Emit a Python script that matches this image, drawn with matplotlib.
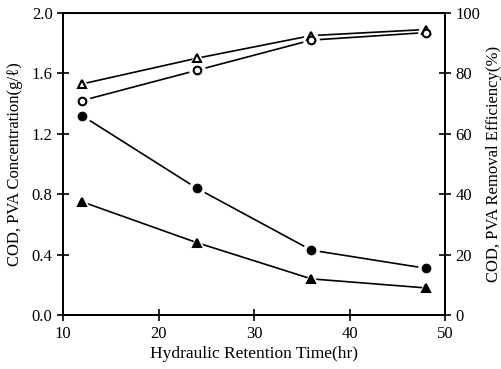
import matplotlib
matplotlib.use("Agg")
import matplotlib.pyplot as plt

plt.rcParams['font.family'] = ['Liberation Serif', 'DejaVu Serif']

hrt = [12, 24, 36, 48]
cod_conc = [1.32, 0.84, 0.43, 0.31]
pva_conc = [0.75, 0.48, 0.24, 0.18]
cod_eff = [76.5, 85.0, 92.5, 94.5]
pva_eff = [71.0, 81.0, 91.0, 93.5]

fig = plt.figure(figsize=(5.02, 3.69), dpi=100)
ax = fig.add_axes([0.1255, 0.146, 0.761, 0.819])
ax2 = ax.twinx()


def draw(a, y, marker, filled):
    a.plot(hrt, y, color='black', lw=1.2, zorder=2)
    # white halo leaves a small gap between line and marker
    a.plot(hrt, y, ls='none', marker=marker, ms=11, mfc='white', mec='white', zorder=3)
    ms = 5.5 if marker == 'o' else 6
    a.plot(hrt, y, ls='none', marker=marker, ms=ms,
           mfc='black' if filled else 'white', mec='black', mew=1.5, zorder=4)


draw(ax, cod_conc, 'o', True)
draw(ax, pva_conc, '^', True)
draw(ax2, cod_eff, '^', False)
draw(ax2, pva_eff, 'o', False)

ax.set_xlim(10, 50)
ax.set_ylim(0, 2.0)
ax2.set_ylim(0, 100)
ax.set_xticks([10, 20, 30, 40, 50])
ax.set_yticks([0.0, 0.4, 0.8, 1.2, 1.6, 2.0])
ax.set_yticklabels(['0.0', '0.4', '0.8', '1.2', '1.6', '2.0'])
ax2.set_yticks([0, 20, 40, 60, 80, 100])

for a in (ax, ax2):
    a.tick_params(direction='inout', length=8, width=1.2, labelsize=12)
    for s in a.spines.values():
        s.set_linewidth(1.4)
ax.spines['top'].set_linewidth(0.8)

ax.set_xlabel('Hydraulic Retention Time(hr)', fontsize=12.5, labelpad=3)
ax.set_ylabel('COD, PVA Concentration(g/ℓ)', fontsize=12, labelpad=6)
ax2.set_ylabel('COD, PVA Removal Efficiency(%)', fontsize=12, labelpad=4)

fig.savefig('out.png', dpi=100)
